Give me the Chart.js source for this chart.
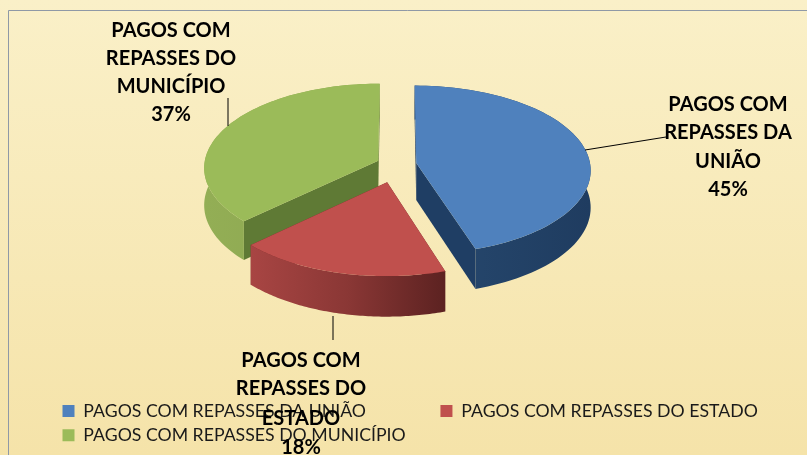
<!DOCTYPE html>
<html><head><meta charset="utf-8">
<style>html,body{margin:0;padding:0;background:#f8ecc0;overflow:hidden}canvas{display:block}</style>
<script src="https://cdn.jsdelivr.net/npm/chart.js@4"></script>
</head><body><canvas id="c" width="807" height="455"></canvas>
<script>
const categories = ['PAGOS COM REPASSES DA UNIÃO','PAGOS COM REPASSES DO ESTADO','PAGOS COM REPASSES DO MUNICÍPIO'];
const values = [45,18,37];
const labelLines = [['PAGOS COM','REPASSES DA','UNIÃO'],['PAGOS COM','REPASSES DO','ESTADO'],['PAGOS COM','REPASSES DO','MUNICÍPIO']];
const topColors = ['#4f81bd','#c0504d','#9bbb59'];
const explode = [20,37,20];

const CX=396.5, CY=164.5, K=0.485, A=0.08, DEPTH=37;
const faceColors=['#1f3e64','#6a2625','#5f7a35'];
const wallStops=[['#27496f','#1f3c60'],['#a84543','#8a3735','#5c2221'],['#93ae55','#8aa44f']];
const labelBoxes=[{x:728,ys:[105,133,162,190],line:[[585,150],[666,137]]},
                  {x:301,ys:[361,389,419,448],line:[[333,316],[333,340]]},
                  {x:171,ys:[31,59,87,115],line:[[228,126],[228,98]]}];

const pie3d={id:'pie3d',
  beforeDraw(chart){
    const c=chart.ctx;
    const g=c.createLinearGradient(0,0,0,455);
    g.addColorStop(0,'#faf0c8');g.addColorStop(1,'#f5e3a9');
    c.save();c.fillStyle=g;c.fillRect(0,0,807,455);
    c.strokeStyle='#8f99a6';c.lineWidth=1;
    c.beginPath();c.moveTo(8.5,455);c.lineTo(8.5,10.5);c.lineTo(807,10.5);c.stroke();
    c.restore();
  },
  beforeDatasetDraw(chart){
    const c=chart.ctx, arcs=chart.getDatasetMeta(0).data;
    const R=arcs[0].outerRadius;
    const proj=(px,py,z)=>{const s=1+A*py/R;return [CX+px*s,CY+K*py*s+z*s];};
    const poly=(pts,fill)=>{c.beginPath();pts.forEach((p,i)=>i?c.lineTo(p[0],p[1]):c.moveTo(p[0],p[1]));c.closePath();c.fillStyle=fill;c.fill();};
    const order=[2,0,1];
    order.forEach(i=>{
      const a=arcs[i], st=a.startAngle, en=a.endAngle, mid=(st+en)/2, d=a.options.offset;
      const ox=d*Math.cos(mid), oy=d*Math.sin(mid);
      const arcPts=[];const n=80;
      for(let j=0;j<=n;j++){const t=st+(en-st)*j/n;arcPts.push([ox+R*Math.cos(t),oy+R*Math.sin(t)]);}
      const at=z=>arcPts.map(p=>proj(p[0],p[1],z));
      const apexT=proj(ox,oy,0), apexB=proj(ox,oy,DEPTH);
      const topA=at(0), botA=at(DEPTH);
      poly([apexT,topA[0],botA[0],apexB],faceColors[i]);
      poly([apexT,topA[n],botA[n],apexB],faceColors[i]);
      const xs=topA.map(p=>p[0]), minX=Math.min(...xs), maxX=Math.max(...xs);
      const g=c.createLinearGradient(minX,0,maxX,0);
      wallStops[i].forEach((col,k,arr)=>g.addColorStop(k/(arr.length-1),col));
      poly(topA.concat(botA.slice().reverse()),g);
      poly([apexT].concat(topA),topColors[i]);
    });
    return false;
  },
  afterDraw(chart){
    const c=chart.ctx;
    c.save();
    c.strokeStyle='#000';c.lineWidth=1;
    labelBoxes.forEach(b=>{c.beginPath();c.moveTo(b.line[0][0],b.line[0][1]);c.lineTo(b.line[1][0],b.line[1][1]);c.stroke();});
    c.fillStyle='#000';c.textAlign='center';c.textBaseline='middle';c.font='bold 20px Lato';
    labelBoxes.forEach((b,i)=>{
      labelLines[i].concat(values[i]+'%').forEach((t,j)=>c.fillText(t,b.x,b.ys[j]));
    });
    c.restore();
  }
};

new Chart(document.getElementById('c'),{
  type:'pie',
  data:{labels:categories,datasets:[{data:values,backgroundColor:topColors,offset:explode,borderWidth:0}]},
  options:{
    responsive:false,animation:false,radius:174,
    layout:{padding:{left:56,right:0,top:0,bottom:1}},
    plugins:{
      tooltip:{enabled:false},
      legend:{display:true,position:'bottom',align:'start',
        labels:{boxWidth:12,boxHeight:12,padding:6.5,color:'#1a1a1a',font:{family:'Lato',size:17.7},
          generateLabels(chart){
            const items=Chart.overrides.pie.plugins.legend.labels.generateLabels(chart);
            items[0].text=items[0].text+' '.repeat(15);
            return items;
          }}
      }
    }
  },
  plugins:[pie3d]
});
</script></body></html>
